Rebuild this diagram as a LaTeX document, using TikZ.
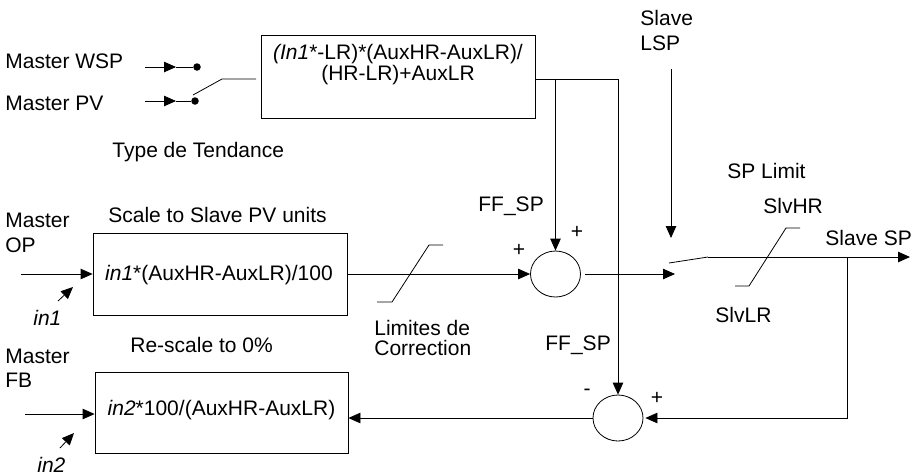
\documentclass[tikz,border=0pt]{standalone}
\usepackage{fontspec}
\setmainfont{Liberation Sans}
\usetikzlibrary{arrows.meta,shapes.geometric}
\begin{document}
\begin{tikzpicture}[x=1pt,y=-1pt,
  line width=0.8pt,
  font=\fontsize{21}{19.5}\selectfont,
  lbl/.style={inner sep=0pt, anchor=base west},
  ctr/.style={inner sep=0pt, anchor=base, align=center},
  fbox/.style={draw, rectangle, inner sep=0pt},
  sumnode/.style={draw, ellipse, minimum width=50pt, minimum height=46pt, inner sep=0pt},
  arr/.style={-{Triangle[length=12pt,width=10.5pt]}},
  dotnode/.style={circle, fill, inner sep=0pt, minimum size=7.5pt}]
\useasboundingbox (0,0) rectangle (920,475);

% ---- boxes and summing junctions
\node[fbox, minimum width=274pt, minimum height=83pt] (fbTop) at (398,76.5) {};
\node[fbox, minimum width=254pt, minimum height=82pt] (fbScale) at (220,274) {};
\node[fbox, minimum width=253pt, minimum height=81pt] (fbRescale) at (221.5,412.5) {};
\node[sumnode] (sum1) at (555.5,274) {};
\node[sumnode] (sum2) at (618,418) {};

% ---- box texts
\node[ctr] (tTop) at (398,80.5) {\textit{(In1}*-LR)*(AuxHR-AuxLR)/\\(HR-LR)+AuxLR};
\node[ctr] (tScale) at (219,280) {\textit{in1}*(AuxHR-AuxLR)/100};
\node[ctr] (tRescale) at (221.5,415) {\textit{in2}*100/(AuxHR-AuxLR)};

% ---- labels
\node[lbl] (lWSP) at (5,68) {Master WSP};
\node[lbl] (lPV) at (5,110) {Master PV};
\node[lbl] (lType) at (112,157) {Type de Tendance};
\node[lbl] (lSlave1) at (640,25) {Slave};
\node[lbl] (lSlave2) at (640,50) {LSP};
\node[lbl] (lMOP1) at (5,227) {Master};
\node[lbl] (lMOP2) at (5,252) {OP};
\node[lbl] (lScale) at (108,222) {Scale to Slave PV units};
\node[lbl] (lin1) at (33,325) {\textit{in1}};
\node[lbl] (lLim1) at (374,335) {Limites de};
\node[lbl] (lLim2) at (374,355) {Correction};
\node[lbl] (lFF1) at (478,211) {FF\_SP};
\node[inner sep=0pt] (lP1) at (519,250) {+};
\node[inner sep=0pt] (lP2) at (577,232) {+};
\node[lbl] (lSPL) at (727,178) {SP Limit};
\node[lbl] (lHR) at (763,213) {SlvHR};
\node[lbl] (lSSP) at (825,245) {Slave SP};
\node[lbl] (lLR) at (715,322) {SlvLR};
\node[lbl] (lRes) at (130,352) {Re-scale to 0\%};
\node[lbl] (lMFB1) at (5,363) {Master};
\node[lbl] (lMFB2) at (5,387) {FB};
\node[lbl] (lin2) at (37,472) {\textit{in2}};
\node[lbl] (lFF2) at (545,350) {FF\_SP};
\node[inner sep=0pt] (lM) at (587,392) {-};
\node[inner sep=0pt] (lP3) at (657,398) {+};

% ---- tendency switch
\coordinate (wspA) at (145,67);
\coordinate (wspM) at (176,67);
\node[dotnode] (wspDot) at (197,67) {};
\coordinate (pvA) at (145,101);
\coordinate (pvM) at (176,101);
\node[dotnode] (pvDot) at (195,101) {};
\draw[arr] (wspA) -- (wspM);
\draw (wspM) -- (wspDot);
\draw[arr] (pvA) -- (pvM);
\draw (pvM) -- (pvDot);
\coordinate (swA) at (193,95);
\coordinate (swB) at (222,79);
\coordinate (swC) at (256,79);
\draw (swA) -- (swB) -- (swC);

% ---- feed-forward from top box
\coordinate (jA) at (555.5,79);
\coordinate (jB) at (618,79);
\draw (fbTop.east |- jA) -- (jB);
\draw[arr] (jA) -- (jA |- sum1.north);
\draw[arr] (jB) -- (jB |- sum2.north);

% ---- scale path
\coordinate (opIn) at (21,274);
\draw[arr] (opIn) -- (fbScale.west);
\coordinate (in1A) at (58,301);
\coordinate (in1B) at (73,287);
\draw[arr] (in1A) -- (in1B);
\draw[arr] (fbScale.east) -- (sum1.west);
\draw (377,302) -- (392,302) -- (429,245) -- (443,245);

% ---- SP limit switch
\coordinate (swIn) at (675,274);
\draw[arr] ([xshift=4pt]sum1.east) -- (sum1.east -| swIn);
\coordinate (lspA) at (671,69);
\coordinate (lspB) at (671,238);
\draw[arr] (lspA) -- (lspB);
\coordinate (s2A) at (669,263);
\coordinate (s2B) at (708,257);
\coordinate (spOut) at (910,257);
\coordinate (fbJ) at (847,257);
\draw (s2A) -- (s2B);
\draw[arr] (s2B) -- (spOut);
\draw (735,286) -- (749,286) -- (786,228) -- (800,228);

% ---- feedback path
\draw[arr] (fbJ) -- (fbJ |- sum2.east) -- ([xshift=2pt]sum2.east);
\draw[arr] (sum2.west) -- (sum2.west -| fbRescale.east);
\coordinate (fbIn) at (25,414);
\draw[arr] (fbIn) -- (fbIn -| fbRescale.west);
\coordinate (in2A) at (60,448);
\coordinate (in2B) at (74,433);
\draw[arr] (in2A) -- (in2B);
\end{tikzpicture}
\end{document}
